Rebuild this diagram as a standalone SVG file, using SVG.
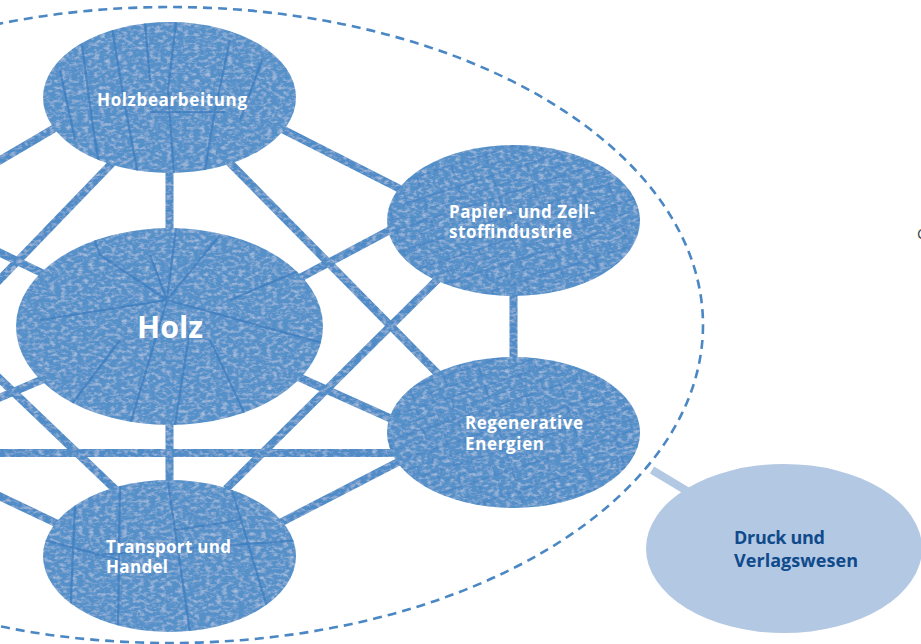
<svg xmlns="http://www.w3.org/2000/svg" width="921" height="644" viewBox="0 0 921 644">
<defs>
<style>
.wood{fill:#5590c9;}
.con line{stroke:#4f8bc6;stroke-width:8;stroke-linecap:butt;}
.crack{fill:none;stroke:#3a7abd;stroke-width:2.2;stroke-opacity:0.7;}
.lbl{font-family:"Open Sans","Liberation Sans",sans-serif;font-weight:bold;fill:#ffffff;}
.dk{font-family:"Open Sans","Liberation Sans",sans-serif;font-weight:bold;fill:#0f4a8b;}
</style>
<filter id="tex" filterUnits="userSpaceOnUse" x="0" y="0" width="921" height="644">
<feTurbulence type="fractalNoise" baseFrequency="0.18 0.3" numOctaves="3" seed="4" result="n"/>
<feColorMatrix in="n" type="matrix" values="0 0 0 0 1  0 0 0 0 1  0 0 0 0 1  0.8 0 0 0 -0.36" result="w"/>
<feComposite in="w" in2="SourceGraphic" operator="in" result="wm"/>
<feMerge><feMergeNode in="SourceGraphic"/><feMergeNode in="wm"/></feMerge>
</filter>
<pattern id="brick" width="36" height="22" patternUnits="userSpaceOnUse" patternTransform="rotate(-18)">
<path d="M0 0H36M0 11H36M0 0V11M18 11V22" fill="none" stroke="#3a7abd" stroke-width="1.6" stroke-opacity="0.5"/>
</pattern>
<clipPath id="cHb"><ellipse cx="169.5" cy="97.5" rx="126.5" ry="75.5"/></clipPath>
<clipPath id="cH"><ellipse cx="169.5" cy="326.5" rx="153.5" ry="98.5"/></clipPath>
<clipPath id="cT"><ellipse cx="169.5" cy="556" rx="126.5" ry="76"/></clipPath>
</defs>
<rect width="921" height="644" fill="#ffffff"/>

<ellipse id="boundary" cx="170" cy="325" rx="533" ry="318" fill="none" stroke="#4a87c3" stroke-width="2.6" stroke-dasharray="9 6"/>

<g id="connectors" class="con" filter="url(#tex)">
<line x1="169.5" y1="168" x2="169.5" y2="234"/>
<line x1="278" y1="127" x2="404" y2="191"/>
<line x1="226" y1="159" x2="442" y2="378"/>
<line x1="60" y1="125" x2="-20" y2="172"/>
<line x1="116" y1="159" x2="-20" y2="300"/>
<line x1="296" y1="280" x2="394" y2="228"/>
<line x1="442" y1="275" x2="226" y2="489"/>
<line x1="513.5" y1="290" x2="513.5" y2="362"/>
<line x1="296" y1="376" x2="394" y2="420"/>
<line x1="169.5" y1="420" x2="169.5" y2="486"/>
<line x1="-20" y1="453" x2="394" y2="453"/>
<line x1="278" y1="524" x2="402" y2="460"/>
<line x1="-20" y1="487" x2="62" y2="526"/>
<line x1="-20" y1="360" x2="118" y2="492"/>
<line x1="-20" y1="243" x2="46" y2="275"/>
<line x1="-20" y1="406" x2="46" y2="378"/>
</g>
<g id="connector-druck">
<line x1="652" y1="470" x2="697" y2="497" stroke="#b3c8e3" stroke-width="8"/>
</g>

<g id="node-holzbearbeitung">
<ellipse class="wood" cx="169.5" cy="97.5" rx="126.5" ry="75.5" filter="url(#tex)"/>
<g clip-path="url(#cHb)">
<path class="crack" d="M176 22L168 90L174 175M112 28L124 100L138 175M82 45L92 120L100 170M230 40L215 110L205 170M262 60L240 120M145 22L150 80M150 112L225 112M60 70L75 140"/>
</g>
<text class="lbl" x="97" y="106" font-size="17" textLength="150" lengthAdjust="spacing">Holzbearbeitung</text>
</g>

<g id="node-holz">
<ellipse class="wood" cx="169.5" cy="326.5" rx="153.5" ry="98.5" filter="url(#tex)"/>
<g clip-path="url(#cH)">
<path class="crack" d="M167 300L130 425M167 300L100 255L90 228M167 300L220 235M167 300L330 345M167 300L176 228M167 300L40 320M167 300L150 255M210 340L250 425M190 330L175 425M120 340L60 420M230 300L300 270"/>
</g>
<text class="lbl" x="137" y="338" font-size="30" textLength="66" lengthAdjust="spacingAndGlyphs">Holz</text>
</g>

<g id="node-papier">
<ellipse class="wood" cx="513.5" cy="220.5" rx="126.5" ry="75.5" filter="url(#tex)"/>
<ellipse cx="513.5" cy="220.5" rx="126.5" ry="75.5" fill="url(#brick)"/>
<text class="lbl" font-size="17"><tspan x="449" y="218" textLength="146" lengthAdjust="spacing">Papier- und Zell-</tspan><tspan x="449" y="237.5" textLength="123" lengthAdjust="spacing">stoffindustrie</tspan></text>
</g>

<g id="node-regenerative">
<ellipse class="wood" cx="513.5" cy="432.5" rx="126.5" ry="75.5" filter="url(#tex)"/>
<ellipse cx="513.5" cy="432.5" rx="126.5" ry="75.5" fill="url(#brick)"/>
<text class="lbl" font-size="17"><tspan x="465" y="429" textLength="118" lengthAdjust="spacing">Regenerative</tspan><tspan x="465" y="450" textLength="79" lengthAdjust="spacing">Energien</tspan></text>
</g>

<g id="node-transport">
<ellipse class="wood" cx="169.5" cy="556" rx="126.5" ry="76" filter="url(#tex)"/>
<g clip-path="url(#cT)">
<path class="crack" d="M120 482L118 632M168 482L190 632M232 490L268 610M75 505L70 620M95 555L300 540M176 530L240 520M44 540L120 560"/>
</g>
<text class="lbl" font-size="17"><tspan x="106" y="553" textLength="125" lengthAdjust="spacing">Transport und</tspan><tspan x="106" y="573" textLength="62" lengthAdjust="spacing">Handel</tspan></text>
</g>

<g id="node-druck">
<ellipse cx="784" cy="548.5" rx="138" ry="84.5" fill="#b3c8e3"/>
<text class="dk" font-size="18"><tspan x="734" y="544" textLength="91" lengthAdjust="spacing">Druck und</tspan><tspan x="734" y="567" textLength="124" lengthAdjust="spacing">Verlagswesen</tspan></text>
</g>

<text x="917" y="239" font-family="Open Sans, Liberation Sans, sans-serif" font-size="15" fill="#444444">C</text>
</svg>
